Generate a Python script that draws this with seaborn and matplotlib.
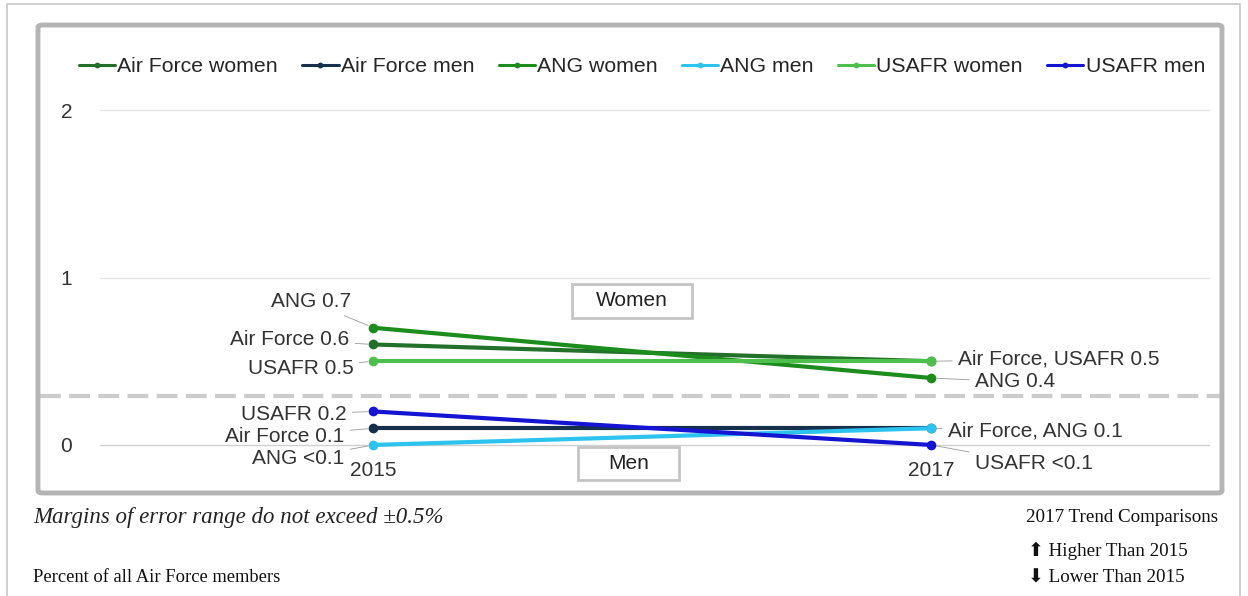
import pandas as pd
import matplotlib.pyplot as plt
import seaborn as sns
from matplotlib.patches import Rectangle, FancyBboxPatch

# --- Data --- #
years = [2015, 2017]
series = ["Air Force women", "Air Force men", "ANG women",
          "ANG men", "USAFR women", "USAFR men"]
af_women = [0.6, 0.5]
af_men = [0.1, 0.1]
ang_women = [0.7, 0.4]
ang_men = [0.0, 0.1]
usafr_women = [0.5, 0.5]
usafr_men = [0.2, 0.0]
colors = ["#23702a", "#16304c", "#1c8c1c", "#2cc3ee", "#4cbf4c", "#1414d2"]

left_labels = {"ANG women": "ANG 0.7", "Air Force women": "Air Force 0.6",
               "USAFR women": "USAFR 0.5", "USAFR men": "USAFR 0.2",
               "Air Force men": "Air Force 0.1", "ANG men": "ANG <0.1"}
right_labels = {"USAFR women": "Air Force, USAFR 0.5", "ANG women": "ANG 0.4",
                "ANG men": "Air Force, ANG 0.1", "USAFR men": "USAFR <0.1"}

values = [af_women, af_men, ang_women, ang_men, usafr_women, usafr_men]
df = pd.DataFrame({
    "series": [s for s in series for _ in years],
    "year": years * len(series),
    "value": [v for vals in values for v in vals],
})

sns.set_style("white")
plt.rcParams['font.family'] = ['Liberation Sans', 'DejaVu Sans']

fig = plt.figure(figsize=(12.48, 5.96), dpi=100)
W, H = 1248, 596
ax = fig.add_axes([100 / W, 1 - 455 / H, 1110 / W, 360 / H])

sns.lineplot(data=df, x="year", y="value", hue="series", hue_order=series,
             palette=colors, marker="o", markersize=7, markeredgewidth=0,
             linewidth=3, ax=ax)

ax.set_xlim(2014.02, 2018.0)
ax.set_ylim(-0.06, 2.09)
ax.set_yticks([0, 1, 2])
ax.set_yticklabels(["0", "1", "2"], fontsize=15, color="#333333")
ax.set_xticks(years)
ax.set_xticklabels([str(y) for y in years], fontsize=15, color="#333333")
ax.tick_params(axis="x", length=0, pad=4)
ax.tick_params(axis="y", length=0, pad=20)
ax.set_xlabel("")
ax.set_ylabel("")
for s in ax.spines.values():
    s.set_visible(False)
for yv in [1, 2]:
    ax.axhline(yv, color="#e6e6e6", lw=1, zorder=0)
ax.axhline(0, color="#d0d0d0", lw=1, zorder=0)

# dashed separator women / men
ax.axhline(0.29, xmin=-0.054, xmax=1.009, color="#cccccc", lw=3,
           dashes=(5, 2), clip_on=False, zorder=0)

# legend
handles, labels = ax.get_legend_handles_labels()
for h in handles:
    h.set_linewidth(2.2)
ax.legend(handles, labels, ncol=6, loc="center", frameon=False,
          bbox_to_anchor=(642 / W, 1 - 67 / H), bbox_transform=fig.transFigure,
          fontsize=15.3, handlelength=1.7, handletextpad=0.1, columnspacing=1.15,
          markerscale=0.6)

# data labels with leader lines
left_off = {"ANG women": (-22, 26), "Air Force women": (-24, 5),
            "USAFR women": (-20, -7), "USAFR men": (-27, -3),
            "Air Force men": (-29, -8), "ANG men": (-29, -14)}
right_off = {"USAFR women": (27, 2), "ANG women": (44, -4),
             "ANG men": (17, -3), "USAFR men": (44, -19)}
lead = dict(arrowstyle="-", color="#999999", lw=0.6, shrinkA=2, shrinkB=4)
for name, txt in left_labels.items():
    v = values[series.index(name)][0]
    ax.annotate(txt, (years[0], v), xytext=left_off[name],
                textcoords="offset pixels", ha="right", va="center",
                fontsize=15, color="#333333", arrowprops=lead)
for name, txt in right_labels.items():
    v = values[series.index(name)][1]
    ax.annotate(txt, (years[1], v), xytext=right_off[name],
                textcoords="offset pixels", ha="left", va="center",
                fontsize=15, color="#333333", arrowprops=lead)

# Women / Men boxes
for label, (x0, y0, x1, y1) in [("Women", (572, 284, 692, 318)),
                                ("Men", (578, 447, 679, 480))]:
    fig.add_artist(Rectangle((x0 / W, 1 - y1 / H), (x1 - x0) / W, (y1 - y0) / H,
                             transform=fig.transFigure, fc="white",
                             ec="#c4c4c4", lw=2, zorder=5))
    fig.text((x0 + x1) / 2 / W, 1 - (y0 + y1) / 2 / H, label, ha="center",
             va="center", fontsize=15, color="#222222", zorder=6)

# frames
fig.add_artist(Rectangle((7 / W, -0.01), 1233 / W, 1 - 4 / H + 0.01,
                         transform=fig.transFigure, fill=False,
                         ec="#c8c8c8", lw=1.2))
fig.add_artist(FancyBboxPatch((38 / W, 1 - 493 / H), 1184 / W, 468 / H,
                              boxstyle="round,pad=0,rounding_size=0.004",
                              transform=fig.transFigure, fill=False,
                              ec="#b4b4b4", lw=3.5))

# footnotes
serif = ['Liberation Serif', 'DejaVu Sans']
fig.text(33 / W, 1 - 518 / H, "Margins of error range do not exceed \u00b10.5%",
         family=serif, style="italic", fontsize=16.5, va="center", color="#222222")
fig.text(33 / W, 1 - 577 / H, "Percent of all Air Force members",
         family=serif, fontsize=13.3, va="center", color="#111111")
fig.text(1218 / W, 1 - 518 / H, "2017 Trend Comparisons", family=serif,
         fontsize=13.7, va="center", ha="right", color="#111111")
fig.text(1028 / W, 1 - 551 / H, "\u2b06 Higher Than 2015", family=serif,
         fontsize=13.7, va="center", color="#111111")
fig.text(1028 / W, 1 - 578 / H, "\u2b07 Lower Than 2015", family=serif,
         fontsize=13.7, va="center", color="#111111")

fig.savefig("out.png", dpi=100)
